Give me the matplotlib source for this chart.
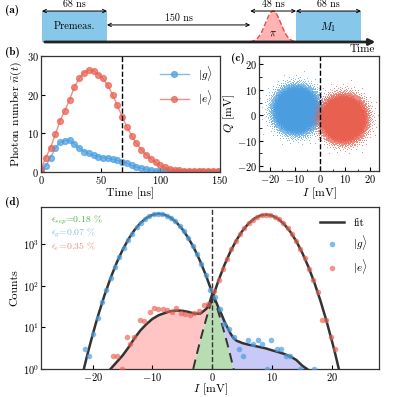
import numpy as np
import matplotlib.pyplot as plt
from matplotlib.ticker import AutoMinorLocator, LogLocator

plt.rcParams.update({
    'font.family': 'serif',
    'font.serif': ['cmr10'],
    'mathtext.fontset': 'cm',
    'axes.formatter.use_mathtext': True,
    'font.size': 8,
    'axes.linewidth': 0.9,
    'axes.edgecolor': '#333333',
})

C_G = '#4a9ee0'
C_E = '#e8604f'

# ---- (a) pulse sequence, durations in ns
t_premeas = 68
t_wait = 150
t_pi = 48
t_m1 = 68

# ---- (b) photon number vs time
t_ns = list(range(0, 152, 4))
n_g = [0.3, 1.6, 3.7, 6.2, 7.7, 8.1, 8.2, 7.2, 6.2, 5.3, 4.8, 4.3, 4.0, 3.7, 3.6,
       3.3, 3.0, 2.7, 2.3, 1.7, 1.3, 1.0, 0.7, 0.45, 0.3, 0.2, 0.15, 0.12, 0.1,
       0.1, 0.1, 0.1, 0.1, 0.1, 0.1, 0.1, 0.1, 0.1]
n_e = [0.8, 3.7, 6.3, 9.7, 13.3, 15.9, 18.7, 22.0, 24.2, 25.7, 26.3, 26.2, 25.2,
       24.2, 22.4, 20.0, 17.2, 14.3, 11.6, 9.4, 7.4, 5.8, 4.5, 3.4, 2.5, 1.7, 1.2,
       0.8, 0.6, 0.45, 0.35, 0.3, 0.25, 0.22, 0.2, 0.2, 0.2, 0.2]
t_readout = 68

# ---- (c) IQ clouds: centre I, centre Q, width (mV), shots
cloud_g = [-9.5, 2.3, 3.5, 30000]
cloud_e = [9.2, -1.2, 3.5, 30000]

# ---- (d) histograms
g_pts_I = [-21.3, -20.58, -19.86, -19.14, -18.42, -17.7, -16.98, -16.26, -15.54,
           -14.82, -14.1, -13.38, -12.66, -11.94, -11.22, -10.5, -9.78, -9.06,
           -8.34, -7.62, -6.9, -6.18, -5.46, -4.74, -4.02, -3.3, -2.58, -1.86,
           -1.14, -0.42, 0.5, 1.33, 2.0, 2.83, 3.56, 4.4, 5.1, 5.94, 6.72, 7.56,
           8.3, 9.1, 9.8, 10.7, 11.4, 12.2, 12.9, 14.7, 16.9]
g_pts_n = [3, 2, 7, 17, 40, 78, 150, 290, 500, 800, 1250, 1800, 2520, 3250, 4100,
           4750, 5200, 5350, 5300, 4850, 4200, 3550, 2700, 2050, 1400, 920, 580,
           340, 185, 80, 53, 27, 12, 9, 6, 3, 2, 5, 4, 5, 4, 1, 5, 3, 3, 2, 2, 1, 1]
e_pts_I = [-16.55, -15.9, -15.05, -14.2, -13.67, -13.1, -12.0, -11.44, -10.44,
           -9.78, -9.0, -8.22, -7.55, -6.72, -6.0, -5.22, -4.5, -3.78, -3.0, -2.28,
           -1.44, -0.78, 0.3, 1.02, 1.74, 2.46, 3.18, 3.9, 4.62, 5.34, 6.06, 6.78,
           7.5, 8.22, 8.94, 9.66, 10.38, 11.1, 11.82, 12.54, 13.26, 13.98, 14.7,
           15.42, 16.14, 16.86, 17.58, 18.3, 19.02, 19.74, 20.46]
e_pts_n = [2, 2, 1, 6, 4, 6, 15, 14, 24, 30, 27, 28, 26, 24, 30, 22, 21, 20, 22, 25,
           34, 36, 75, 135, 254, 449, 747, 1170, 1730, 2410, 3160, 3900, 4540, 4970,
           5130, 4980, 4560, 3930, 3180, 2430, 1750, 1190, 760, 455, 258, 137, 70,
           15, 15, 6, 3]

g_fit_I = [-21.45, -21, -20.5, -20, -19.5, -19, -18, -17, -16, -15, -14, -13, -12,
           -11, -10, -9, -8, -7, -6, -5, -4, -3, -2, -1, 0]
g_fit = [1.0, 1.84, 3.5, 6.5, 11.8, 20.8, 59.6, 152, 350, 718, 1321, 2181, 3221,
         4263, 5054, 5370, 5110, 4356, 3328, 2279, 1397, 767, 378, 166, 65.8]
g_tail_I = [0, 0.5, 1, 1.5, 2, 2.5, 3, 3.55]
g_tail = [65.8, 39.6, 23.3, 13.3, 7.4, 4.0, 2.1, 1.0]

e_tail_I = [-3.2, -3, -2.5, -2, -1.5, -1, -0.5, 0]
e_tail = [1.0, 1.32, 2.6, 5.0, 9.2, 16.7, 29.2, 49.8]
e_fit_I = [0, 1, 2, 3, 4, 5, 6, 7, 8, 9, 10, 11, 12, 13, 14, 15, 16, 17, 18, 19,
           20, 20.5, 21.1]
e_fit = [49.8, 132, 313, 661, 1242, 2080, 3100, 4115, 4867, 5130, 4812, 4021,
         2993, 1986, 1172, 617, 289, 121, 44.9, 14.9, 4.4, 2.3, 1.0]

err_left_I = [-17, -16, -15, -14, -13, -12, -11, -10, -9, -8, -7, -6, -5, -4, -3,
              -2, -1, -0.5, 0]
err_left = [1.0, 1.45, 2.1, 3.3, 5.5, 8.5, 12, 16, 19.5, 22, 24.5, 25.5, 25, 23.5,
            21.5, 21.5, 28, 38, 65]
err_right_I = [0, 0.5, 1, 1.5, 2, 2.5, 3, 3.5, 4, 5, 6, 7, 8, 9, 10, 11, 12, 13,
               14, 15, 15.8]
err_right = [65, 45, 30, 21, 14, 10, 7.2, 5.6, 4.8, 4.2, 3.85, 3.6, 3.35, 3.1, 2.8,
             2.55, 2.3, 2.0, 1.65, 1.2, 1.0]

eps_labels = [r'$\epsilon_{sep}$=0.18 %', r'$\epsilon_g$=0.07 %', r'$\epsilon_e$=0.35 %']
eps_colors = ['#4fae4f', '#86bde9', '#f08a80']

W = 397.0
fig = plt.figure(figsize=(3.97, 3.97), dpi=100)


def box(l, t, r, b):
    return [l / W, 1 - b / W, (r - l) / W, (b - t) / W]


def tick_style(ax):
    ax.tick_params(direction='in', length=3, width=0.8, labelsize=7.5, pad=1.5)
    ax.tick_params(which='minor', direction='in', length=1.8, width=0.6)


# (a)
ax_a = fig.add_axes(box(0, 0, 397, 58))
ax_a.set_xlim(-44, 371.7)
ax_a.set_ylim(0, 1)
ax_a.axis('off')
y0, y1 = 0.276, 0.81
p0 = t_premeas + t_wait
m0 = p0 + t_pi
ax_a.add_patch(plt.Rectangle((0, y0), t_premeas, y1 - y0, color='#87c8ea', lw=0))
ax_a.add_patch(plt.Rectangle((m0, y0), t_m1, y1 - y0, color='#87c8ea', lw=0))
tp = np.linspace(p0, m0, 80)
pulse = y0 + (y1 - y0) * np.exp(-0.5 * ((tp - (p0 + m0) / 2) / (t_pi / 6)) ** 2)
ax_a.fill_between(tp, y0, pulse, color='#ffb3b3', lw=0)
ax_a.plot(tp, pulse, ls='--', color='#e84a4a', lw=1)
ax_a.annotate('', xy=(352, y0), xytext=(0, y0),
              arrowprops=dict(arrowstyle='-|>', lw=2, color='#222222', mutation_scale=9))
for a, b, yy, lab in [(0, t_premeas, y1, '68 ns'), (t_premeas, p0, 0.57, '150 ns'),
                      (p0, m0, y1, '48 ns'), (m0, m0 + t_m1, y1, '68 ns')]:
    ax_a.annotate('', xy=(b, yy), xytext=(a, yy),
                  arrowprops=dict(arrowstyle='<->', lw=0.7, color='k', mutation_scale=6,
                                  shrinkA=0, shrinkB=0))
    ax_a.text((a + b) / 2, yy + 0.12, lab, ha='center', va='center', fontsize=7.2)
ax_a.text(t_premeas / 2, 0.54, 'Premeas.', ha='center', va='center', fontsize=7.5)
ax_a.text((p0 + m0) / 2, 0.42, r'$\pi$', ha='center', va='center', fontsize=7.5)
ax_a.text(m0 + t_m1 / 2, 0.54, r'$M_1$', ha='center', va='center', fontsize=8)
ax_a.text(335, 0.15, 'Time', ha='center', va='center', fontsize=8)

# (b)
ax_b = fig.add_axes(box(41, 56, 220, 172))
ax_b.plot(t_ns, n_g, '-o', color=C_G, lw=1.0, ms=4.2, alpha=0.7, label=r'$|g\rangle$')
ax_b.plot(t_ns, n_e, '-o', color=C_E, lw=1.0, ms=4.2, alpha=0.7, label=r'$|e\rangle$')
ax_b.axvline(t_readout, color='k', ls='--', lw=1)
ax_b.set_xlim(0, 150)
ax_b.set_ylim(0, 30)
ax_b.set_xticks([0, 50, 100, 150])
ax_b.set_yticks([0, 10, 20, 30])
ax_b.set_xlabel('Time [ns]', fontsize=8.5, labelpad=1)
ax_b.set_ylabel(r'Photon number $\bar{n}(t)$', fontsize=8.5, labelpad=2)
ax_b.legend(loc='upper right', frameon=False, fontsize=8, handlelength=2.6,
            borderaxespad=0.3, labelspacing=0.5)
tick_style(ax_b)

# (c)
ax_c = fig.add_axes(box(259, 56, 379, 171))
golden = np.pi * (3 - np.sqrt(5))
for cx, cy, sig, n, col in [cloud_g + [C_G], cloud_e + [C_E]]:
    k = np.arange(n)
    r = sig * np.sqrt(-2 * np.log(1 - (k + 0.5) / n))
    ax_c.scatter(cx + r * np.cos(k * golden), cy + r * np.sin(k * golden),
                 s=0.5, color=col, alpha=0.6, lw=0, rasterized=True)
ax_c.axvline(0, color='k', ls='--', lw=1)
ax_c.set_xlim(-24.3, 23.5)
ax_c.set_ylim(-21.9, 23.3)
ax_c.set_xticks([-20, -10, 0, 10, 20])
ax_c.set_yticks([-20, -10, 0, 10, 20])
ax_c.xaxis.set_minor_locator(AutoMinorLocator(2))
ax_c.yaxis.set_minor_locator(AutoMinorLocator(2))
ax_c.set_xlabel(r'$I$ [mV]', fontsize=8.5, labelpad=0)
ax_c.set_ylabel(r'$Q$ [mV]', fontsize=8.5, labelpad=0)
tick_style(ax_c)

# (d)
ax_d = fig.add_axes(box(41, 207, 379, 369))
ax_d.set_yscale('log')
ax_d.fill(err_left_I + e_tail_I[::-1], err_left + e_tail[::-1], color='#ffc4c4', lw=0)
ax_d.fill(e_tail_I + g_tail_I, e_tail + g_tail, color='#b8ddb2', lw=0)
ax_d.fill(err_right_I + g_tail_I[::-1], err_right + g_tail[::-1], color='#c9c9f7', lw=0)
kc = '#333333'
ax_d.plot(g_fit_I, g_fit, color=kc, lw=1.8, label='fit')
ax_d.plot(e_fit_I, e_fit, color=kc, lw=1.8)
ax_d.plot(err_left_I, err_left, color=kc, lw=1.8)
ax_d.plot(err_right_I, err_right, color=kc, lw=1.8)
ax_d.plot(g_tail_I, g_tail, color=kc, lw=1.4, ls=(0, (5, 3)))
ax_d.plot(e_tail_I, e_tail, color=kc, lw=1.4, ls=(0, (5, 3)))
ax_d.scatter(g_pts_I, g_pts_n, s=16, color=C_G, alpha=0.7, lw=0, zorder=3, label=r'$|g\rangle$')
ax_d.scatter(e_pts_I, e_pts_n, s=16, color=C_E, alpha=0.65, lw=0, zorder=3, label=r'$|e\rangle$')
ax_d.axvline(0, color=kc, ls='--', lw=1)
ax_d.set_xlim(-28.6, 27.8)
ax_d.set_ylim(1, 7800)
ax_d.set_xticks([-20, -10, 0, 10, 20])
ax_d.yaxis.set_major_locator(LogLocator(base=10, numticks=6))
ax_d.yaxis.set_minor_locator(LogLocator(base=10, subs=[], numticks=6))
ax_d.set_xlabel(r'$I$ [mV]', fontsize=8.5, labelpad=-1)
ax_d.set_ylabel('Counts', fontsize=8.5, labelpad=2)
ax_d.legend(loc='upper right', frameon=False, fontsize=8, handlelength=2.2,
            borderaxespad=0.6, labelspacing=0.45)
tick_style(ax_d)
for i, (lab, col) in enumerate(zip(eps_labels, eps_colors)):
    ax_d.text(0.03, 0.92 - i * 0.083, lab, color=col, fontsize=7,
              transform=ax_d.transAxes, va='center')

for lab, x, y in [('(a)', 5, 10), ('(b)', 5, 52), ('(c)', 231, 58), ('(d)', 5, 203)]:
    fig.text(x / W, 1 - y / W, lab, fontsize=8, family='cmb10', va='center')

fig.savefig('out.png', dpi=100)
